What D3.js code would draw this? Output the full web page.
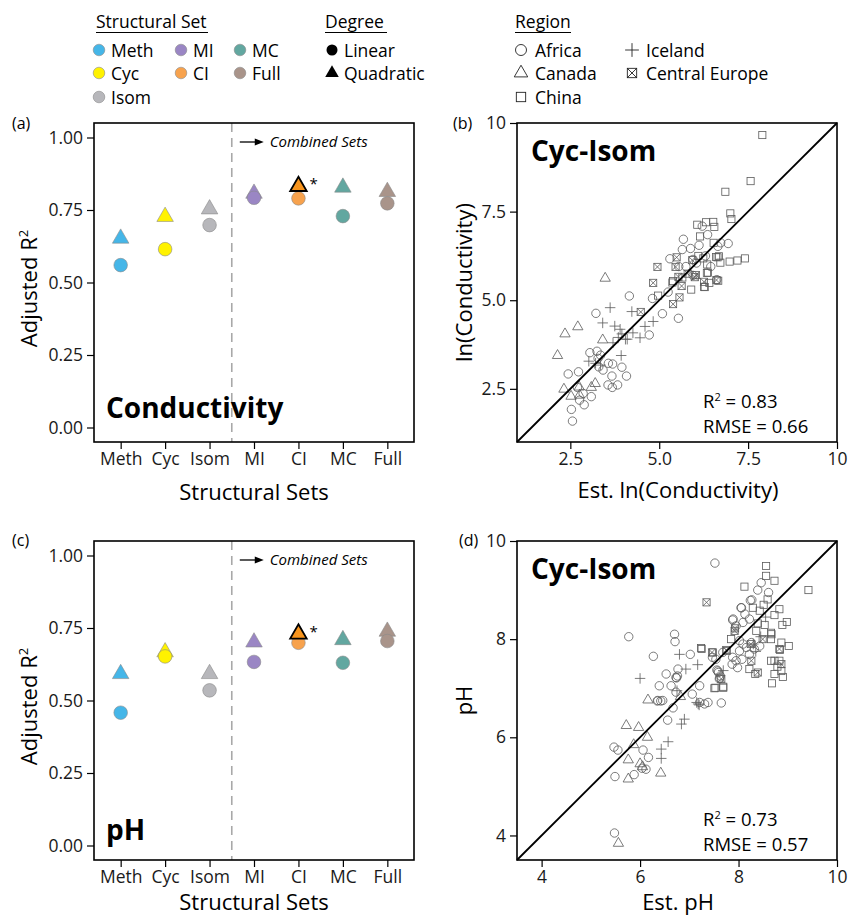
<!DOCTYPE html>
<html>
<head>
<meta charset="utf-8">
<script src="https://cdn.jsdelivr.net/npm/d3@7"></script>
<style>
  body { margin: 0; background: #fff; }
  svg { display: block; font-family: "Open Sans", sans-serif; }
</style>
</head>
<body>
<svg id="chart" width="848" height="916"></svg>
<script>
// structural sets
const setNames = ['Meth', 'Cyc', 'Isom', 'MI', 'CI', 'MC', 'Full'];
const setColors = ['#45b6e8', '#fff200', '#b7b7bb', '#9a86c4', '#f7a24d', '#62a7a0', '#a9948a'];
const bestSet = 'CI';
const r2Ticks = [0, 0.25, 0.5, 0.75, 1];

// adjusted R2, linear vs quadratic
const condLinear = [0.56, 0.615, 0.698, 0.792, 0.79, 0.729, 0.773];
const condQuad = [0.652, 0.727, 0.753, 0.807, 0.832, 0.828, 0.813];
const phLinear = [0.458, 0.652, 0.535, 0.633, 0.699, 0.63, 0.705];
const phQuad = [0.592, 0.667, 0.592, 0.701, 0.73, 0.709, 0.738];

// conductivity: [estimated, observed]
const condTicks = [2.5, 5, 7.5, 10];
const condAfrica = [[4.16,5.12],[3.22,4.63],[4.72,4.02],[5.09,4.62],[4.81,5.05],[5.25,5.23],[5.54,4.49],
  [3.05,3.52],[3.25,3.56],[3.28,3.36],[3.35,3.45],[3.57,3.22],[3.69,3.20],[3.95,3.11],[3.67,2.86],[4.08,2.86],
  [3.56,2.61],[3.83,2.61],[3.68,2.54],[2.44,2.92],[2.73,2.98],[2.70,2.54],[3.09,2.28],[2.89,2.05],[2.53,1.92],
  [2.56,1.59],[2.76,2.18],[2.86,2.37],[3.42,3.03],[3.30,3.12],[5.30,6.17],[5.68,6.72],[5.65,6.43],[5.88,6.46],
  [6.12,6.55],[6.21,7.09],[6.36,6.85],[6.73,6.62],[6.94,6.60],[6.65,6.52],[5.75,5.95],[6.05,6.05],[6.45,5.95],
  [6.62,5.58],[5.95,5.70],[5.55,5.95],[6.30,6.25],[5.95,6.15]];
const condCanada = [[3.48,5.62],[2.35,4.05],[2.71,4.25],[2.14,3.44],[3.41,3.88],[3.20,2.65],[2.32,2.49],
  [2.52,2.29],[2.76,2.32],[3.09,2.54],[2.75,2.55]];
const condChina = [[7.90,9.66],[7.57,8.36],[6.86,8.06],[7.00,7.45],[7.03,7.29],[6.07,7.13],[6.32,7.20],[6.52,7.21],
  [6.55,7.07],[6.15,6.80],[6.53,6.62],[6.98,6.09],[7.20,6.12],[7.41,6.18],[6.72,6.06],[6.60,6.22],[6.68,6.24],
  [6.35,6.01],[6.37,5.78],[6.28,5.37],[5.90,5.30],[5.65,5.64],[5.39,5.54],[4.97,5.13],[6.41,5.49],[6.10,6.25],
  [6.24,6.18],[6.66,5.55],[6.26,5.38],[6.34,5.77],[6.64,6.21],[5.37,5.50]];
const condIceland = [[3.62,4.79],[3.41,4.36],[3.75,4.27],[3.90,4.18],[3.95,4.05],[4.10,3.90],[4.26,4.08],[4.46,3.94],
  [4.60,4.26],[4.83,4.40],[4.23,4.68],[3.93,3.44],[3.02,3.28],[3.21,3.22],[3.35,3.17],[3.70,3.80],[4.05,3.90],[3.85,3.95]];
const condCentralEurope = [[4.95,5.94],[5.49,6.21],[5.46,5.94],[4.83,5.49],[5.54,5.66],[5.63,5.40],[5.57,5.08],
  [5.39,4.89],[5.93,6.13],[6.03,5.71],[6.26,5.52],[6.61,5.57],[4.48,4.67],[5.80,5.75],[6.00,5.65]];

// pH: [estimated, observed]
const phTicks = [4, 6, 8, 10];
const phAfrica = [[7.52,9.55],[5.77,8.05],[6.70,8.10],[6.71,7.95],[6.27,7.65],[6.53,7.29],[6.39,7.05],[6.46,6.75],
  [6.36,6.75],[6.73,6.92],[6.73,7.22],[6.77,7.39],[7.02,7.69],[6.67,6.60],[6.56,6.35],[7.21,6.71],[7.31,6.68],
  [7.38,6.71],[7.65,6.70],[7.21,7.05],[7.06,6.88],[7.59,7.32],[7.62,7.21],[5.47,5.80],[5.55,5.74],[6.06,5.74],
  [6.17,5.59],[5.49,5.20],[5.88,5.24],[6.12,5.35],[6.04,5.37],[5.48,4.05],[6.35,6.74],[6.42,6.74],[6.63,7.05],
  [6.76,7.25],[6.74,7.21],[7.58,7.35],[7.61,7.19],[8.46,9.15],[8.39,9.00],[8.61,8.95],[8.24,8.79],[8.05,8.64],
  [8.13,8.51],[7.88,8.39],[7.95,8.27],[8.09,8.34],[8.22,8.41],[8.02,7.97],[8.09,7.90],[8.16,7.83],[8.26,7.93],
  [8.32,7.80],[8.43,7.86],[8.02,7.76],[8.22,7.69],[7.68,7.73],[7.47,7.63],[7.54,7.59],[7.88,7.63],[7.95,7.56],
  [7.87,7.49],[7.98,7.42],[8.07,7.59],[7.56,7.37],[7.63,7.25],[7.89,8.41],[8.06,8.64],[8.27,8.80]];
const phCanada = [[6.16,6.76],[5.72,6.24],[5.97,6.20],[6.15,6.00],[5.87,5.85],[5.76,5.54],[5.76,5.15],[6.00,5.46],
  [6.42,5.27],[5.56,3.84],[6.82,6.83],[6.05,5.40]];
const phChina = [[8.56,9.49],[8.56,9.29],[8.73,9.19],[8.12,9.07],[9.42,9.00],[8.59,8.81],[8.51,8.70],[8.29,8.64],
  [8.43,8.58],[8.83,8.61],[8.39,8.32],[8.53,8.29],[8.73,8.49],[8.98,8.35],[8.89,8.29],[8.36,8.17],[8.66,8.13],
  [8.66,8.00],[7.85,8.00],[8.87,7.93],[9.02,7.86],[7.24,7.82],[8.22,7.39],[8.66,7.56],[8.73,7.56],[8.83,7.56],
  [8.79,7.44],[8.87,7.35],[8.73,7.29],[8.90,7.23],[8.34,7.29],[8.68,7.10],[7.53,7.01],[7.69,7.01],[7.25,7.80],
  [7.51,7.00],[7.69,7.03],[7.48,7.73],[7.76,7.76],[8.84,7.78],[8.67,8.10]];
const phIceland = [[6.00,7.20],[6.80,7.69],[6.93,7.39],[7.17,7.48],[6.75,6.95],[7.15,6.71],[7.20,6.66],[6.90,6.37],
  [6.84,6.27],[6.57,5.91],[6.43,5.76],[6.43,5.57],[7.69,7.36],[7.18,6.68],[8.30,7.90],[8.45,8.05],[8.55,8.45],[8.35,7.75]];
const phCentralEurope = [[7.35,8.75],[7.92,8.17],[8.49,8.00],[8.83,7.80],[7.46,7.73],[7.75,7.78],[8.26,7.56],
  [8.87,7.49],[8.39,7.32],[7.65,7.19],[7.93,8.22],[8.25,7.90]];

const svg = d3.select('#chart');
const W = 320, H = 319;
const grey = '#5a5a5a';

// region marker, drawn centred on (x, y)
function regionMarker(g, type, x, y, s, color, sw) {
  if (type === 'circle') {
    g.append('circle').attr('cx', x).attr('cy', y).attr('r', s)
      .attr('fill', 'none').attr('stroke', color).attr('stroke-width', sw);
  } else if (type === 'triangle') {
    g.append('path').attr('transform', `translate(${x},${y})`)
      .attr('d', d3.symbol(d3.symbolTriangle, s * s * 2.6)())
      .attr('fill', 'none').attr('stroke', color).attr('stroke-width', sw);
  } else if (type === 'square' || type === 'xsquare') {
    const h = s * 0.85;
    g.append('rect').attr('x', x - h).attr('y', y - h).attr('width', 2 * h).attr('height', 2 * h)
      .attr('fill', 'none').attr('stroke', color).attr('stroke-width', sw);
    if (type === 'xsquare') {
      g.append('path').attr('d', `M${x - h},${y - h}L${x + h},${y + h}M${x + h},${y - h}L${x - h},${y + h}`)
        .attr('stroke', color).attr('stroke-width', sw);
    }
  } else if (type === 'plus') {
    const h = s * 1.25;
    g.append('path').attr('d', `M${x - h},${y}H${x + h}M${x},${y - h}V${y + h}`)
      .attr('stroke', color).attr('stroke-width', sw);
  }
}

function panelLetter(x, y, txt) {
  svg.append('text').attr('x', x).attr('y', y).attr('font-size', 16).text(txt);
}

function styleAxis(g) {
  g.select('.domain').remove();
  g.selectAll('.tick line').attr('stroke', '#000').attr('stroke-width', 1.2);
  g.selectAll('.tick text').attr('font-size', 17.5).attr('fill', '#1a1a1a')
    .attr('font-family', '"Open Sans", sans-serif');
}

function drawR2Panel(left, top, linear, quad, title, titleBase, xTitleBase) {
  const g = svg.append('g').attr('transform', `translate(${left},${top})`);
  const x = d3.scalePoint().domain(setNames).range([0, W]).padding(0.6);
  const y = d3.scaleLinear().domain([-0.05, 1.05]).range([H, 0]);

  g.append('g').call(d3.axisLeft(y).tickValues(r2Ticks).tickFormat(d3.format('.2f'))
    .tickSize(7).tickPadding(4)).call(styleAxis);
  g.append('g').attr('transform', `translate(0,${H})`)
    .call(d3.axisBottom(x).tickSize(7).tickPadding(4)).call(styleAxis);

  // divider between single and combined sets
  const xDiv = (x('Isom') + x('MI')) / 2;
  g.append('line').attr('x1', xDiv).attr('x2', xDiv).attr('y1', 0).attr('y2', H)
    .attr('stroke', '#a8a8a8').attr('stroke-width', 1.6).attr('stroke-dasharray', '9,6');
  const ay = 19;
  g.append('line').attr('x1', xDiv + 8).attr('x2', xDiv + 25).attr('y1', ay).attr('y2', ay)
    .attr('stroke', '#000').attr('stroke-width', 1.3);
  g.append('path').attr('d', `M${xDiv + 32},${ay}L${xDiv + 23},${ay - 3.5}L${xDiv + 23},${ay + 3.5}Z`).attr('fill', '#000');
  g.append('text').attr('x', xDiv + 38).attr('y', ay + 5).attr('font-size', 15)
    .attr('font-style', 'italic').text('Combined Sets');

  const tri = d3.symbol(d3.symbolTriangle, 118);
  const best = setNames.indexOf(bestSet);
  g.selectAll('.quad').data(quad).join('path').attr('class', 'quad')
    .attr('transform', (d, i) => `translate(${x(setNames[i])},${y(d)})`)
    .attr('d', tri()).attr('fill', (d, i) => setColors[i])
    .attr('stroke', '#8a8a8a').attr('stroke-width', 0.6);
  g.selectAll('.lin').data(linear).join('circle').attr('class', 'lin')
    .attr('cx', (d, i) => x(setNames[i])).attr('cy', d => y(d)).attr('r', 6.8)
    .attr('fill', (d, i) => setColors[i]).attr('stroke', '#8a8a8a').attr('stroke-width', 0.6);
  // best model highlighted
  g.append('path').attr('transform', `translate(${x(bestSet)},${y(quad[best])})`)
    .attr('d', tri()).attr('fill', '#f7941d').attr('stroke', '#000').attr('stroke-width', 1.8);
  g.append('text').attr('x', x(bestSet) + 11).attr('y', y(quad[best]) + 3)
    .attr('font-size', 15).text('*');

  g.append('text').attr('x', 12).attr('y', titleBase).attr('font-size', 28).attr('font-weight', 700)
    .text(title);
  g.append('rect').attr('width', W).attr('height', H).attr('fill', 'none')
    .attr('stroke', '#000').attr('stroke-width', 1.6);

  // axis titles
  const yt = svg.append('text').attr('transform', `translate(${left - 57},${top + H / 2 + 6}) rotate(-90)`)
    .attr('text-anchor', 'middle').attr('font-size', 22);
  yt.append('tspan').text('Adjusted R');
  yt.append('tspan').attr('font-size', 13).attr('dy', -9).text('2');
  svg.append('text').attr('x', left + W / 2).attr('y', xTitleBase).attr('text-anchor', 'middle')
    .attr('font-size', 22).text('Structural Sets');
}

function drawScatterPanel(left, top, domain, ticks, fmt, groups, r2, rmse, xTitle, yTitle, xTitleBase) {
  const g = svg.append('g').attr('transform', `translate(${left},${top})`);
  const x = d3.scaleLinear().domain(domain).range([0, W]);
  const y = d3.scaleLinear().domain(domain).range([H, 0]);

  g.append('g').call(d3.axisLeft(y).tickValues(ticks).tickFormat(fmt).tickSize(7).tickPadding(4)).call(styleAxis);
  g.append('g').attr('transform', `translate(0,${H})`)
    .call(d3.axisBottom(x).tickValues(ticks).tickFormat(fmt).tickSize(7).tickPadding(4)).call(styleAxis);

  groups.forEach(([pts, type]) => {
    pts.forEach(p => regionMarker(g, type, x(p[0]), y(p[1]), 4.2, grey, 0.8));
  });

  g.append('line').attr('x1', x(domain[0])).attr('y1', y(domain[0]))
    .attr('x2', x(domain[1])).attr('y2', y(domain[1])).attr('stroke', '#000').attr('stroke-width', 1.8);

  g.append('text').attr('x', 14).attr('y', 38).attr('font-size', 28).attr('font-weight', 700).text('Cyc-Isom');
  const rt = g.append('text').attr('x', 186).attr('y', 285).attr('font-size', 18.5);
  rt.append('tspan').text('R');
  rt.append('tspan').attr('font-size', 11).attr('dy', -7).text('2');
  rt.append('tspan').attr('dy', 7).text(' = ' + r2);
  g.append('text').attr('x', 186).attr('y', 310).attr('font-size', 18.5).text('RMSE = ' + rmse);

  g.append('rect').attr('width', W).attr('height', H).attr('fill', 'none')
    .attr('stroke', '#000').attr('stroke-width', 1.6);

  svg.append('text').attr('transform', `translate(${left - 45},${top + H / 2}) rotate(-90)`)
    .attr('text-anchor', 'middle').attr('font-size', 22).text(yTitle);
  svg.append('text').attr('x', left + W / 2 + 1).attr('y', xTitleBase).attr('text-anchor', 'middle')
    .attr('font-size', 22).text(xTitle);
}

// legend
const legendFont = 17.5;
function legendTitle(x, txt, w) {
  svg.append('text').attr('x', x).attr('y', 28).attr('font-size', legendFont).text(txt);
  svg.append('line').attr('x1', x).attr('x2', x + w).attr('y1', 32.5).attr('y2', 32.5)
    .attr('stroke', '#000').attr('stroke-width', 1);
}
const rowY = [50, 73, 97];
legendTitle(96, 'Structural Set', 112);
const setLegendPos = [[99, 0], [99, 1], [99, 2], [181, 0], [181, 1], [240, 0], [240, 1]];
setNames.forEach((n, i) => {
  const [lx, r] = setLegendPos[i];
  svg.append('circle').attr('cx', lx).attr('cy', rowY[r]).attr('r', 5.8).attr('fill', setColors[i])
    .attr('stroke', '#8a8a8a').attr('stroke-width', 0.6);
  svg.append('text').attr('x', lx + 12).attr('y', rowY[r] + 6.5).attr('font-size', legendFont).text(n);
});
legendTitle(325, 'Degree', 62);
svg.append('circle').attr('cx', 332).attr('cy', rowY[0]).attr('r', 5.5).attr('fill', '#000');
svg.append('text').attr('x', 344).attr('y', rowY[0] + 6.5).attr('font-size', legendFont).text('Linear');
svg.append('path').attr('transform', `translate(332,${rowY[1]})`).attr('d', d3.symbol(d3.symbolTriangle, 80)()).attr('fill', '#000');
svg.append('text').attr('x', 344).attr('y', rowY[1] + 6.5).attr('font-size', legendFont).text('Quadratic');

legendTitle(515, 'Region', 56);
const regionLegend = [['circle', 'Africa', 521, 0], ['triangle', 'Canada', 521, 1], ['square', 'China', 521, 2],
  ['plus', 'Iceland', 632, 0], ['xsquare', 'Central Europe', 632, 1]];
regionLegend.forEach(([type, name, lx, r]) => {
  regionMarker(svg, type, lx, rowY[r], 5.5, '#222', 0.9);
  svg.append('text').attr('x', lx + 14).attr('y', rowY[r] + 6.5).attr('font-size', legendFont).text(name);
});

// panels
panelLetter(12, 129, '(a)');
drawR2Panel(94, 123, condLinear, condQuad, 'Conductivity', 295, 500);
panelLetter(453, 129, '(b)');
drawScatterPanel(517, 123, [1, 10], condTicks, d => d === 10 ? '10' : d.toFixed(1),
  [[condAfrica, 'circle'], [condCanada, 'triangle'], [condChina, 'square'], [condIceland, 'plus'], [condCentralEurope, 'xsquare']],
  '0.83', '0.66', 'Est. ln(Conductivity)', 'ln(Conductivity)', 498);

panelLetter(12, 546, '(c)');
drawR2Panel(94, 541, phLinear, phQuad, 'pH', 299, 910);
panelLetter(459, 546, '(d)');
drawScatterPanel(517, 541, [3.5, 10], phTicks, d3.format('d'),
  [[phAfrica, 'circle'], [phCanada, 'triangle'], [phChina, 'square'], [phIceland, 'plus'], [phCentralEurope, 'xsquare']],
  '0.73', '0.57', 'Est. pH', 'pH', 910);
</script>
</body>
</html>
